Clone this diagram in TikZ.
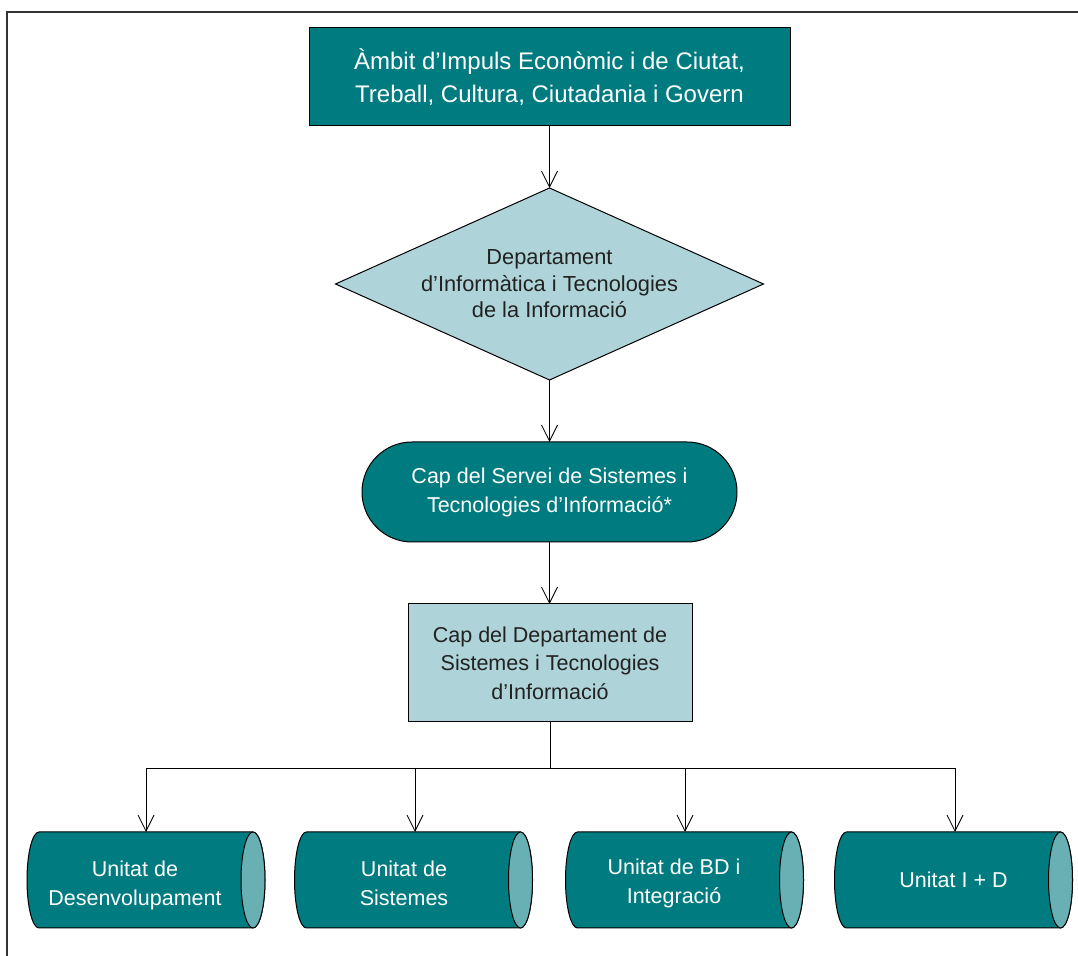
\documentclass[tikz,border=0pt]{standalone}
\usepackage{fontspec}
\setmainfont{Liberation Sans}
\usetikzlibrary{shapes.geometric,arrows.meta}
\definecolor{tealbox}{HTML}{007B7F}
\definecolor{lightbox}{HTML}{AED3D8}
\definecolor{capfill}{HTML}{69B0B4}
\definecolor{darktext}{HTML}{222222}
\newcommand\unitcyl[5]{%
  \node[unitbody] (#1) at (#2,75) {};
  \draw[outline, fill=tealbox] ([xshift=12pt]#1.north west) -- ([xshift=-12pt]#1.north east)
    arc[start angle=90, end angle=-90, x radius=12pt, y radius=48pt]
    -- ([xshift=12pt]#1.south west)
    arc[start angle=270, end angle=90, x radius=12pt, y radius=48pt] -- cycle;
  \draw[outline, fill=capfill] ([xshift=-12pt]#1.east) ellipse[x radius=12pt, y radius=48pt];
  \node[unittext] (#1-t) at ([xshift=#3pt, yshift=#4pt]#1.center) {#5};
}
\begin{document}
\begin{tikzpicture}[x=1pt,y=1pt,
  outline/.style={draw=black, line width=1pt},
  darkbox/.style={outline, fill=tealbox, text=white, align=center, inner sep=0pt, outer sep=0pt,
    font=\fontsize{21.5}{29}\selectfont},
  lightnode/.style={outline, fill=lightbox, text=darktext, align=center, inner sep=0pt, outer sep=0pt,
    font=\fontsize{21.5}{28.5}\selectfont},
  unitbody/.style={rectangle, draw=none, minimum width=238pt, minimum height=96pt, inner sep=0pt, outer sep=0pt},
  unittext/.style={text=white, align=center, inner sep=0pt, font=\fontsize{21.5}{29}\selectfont},
  link/.style={draw=black, line width=0.8pt, -{Straight Barb[length=16pt,width=16pt,line width=0.8pt]}},
  wire/.style={draw=black, line width=0.8pt},
  frameline/.style={draw=black!80, line width=1.2pt}]
\useasboundingbox (0,0) rectangle (1078,955);
% frame
\draw[frameline] (7,-5) -- (7,943) -- (1090,943);
% main chain
\node[darkbox, minimum width=481pt, minimum height=98pt, font=\fontsize{24}{33}\selectfont]
  (ambit) at (549.5,878) {Àmbit d’Impuls Econòmic i de Ciutat,\\Treball, Cultura, Ciutadania i Govern};
\node[lightnode, diamond, minimum width=428pt, minimum height=192pt, aspect=2.23, font=\fontsize{21.8}{26.5}\selectfont]
  (dept) at (549.5,671) {Departament\\d’Informàtica i Tecnologies\\de la Informació};
\node[darkbox, rectangle, rounded corners=50pt, minimum width=375pt, minimum height=100pt]
  (cap) at (549.5,463) {Cap del Servei de Sistemes i\\Tecnologies d’Informació*};
\node[lightnode, rectangle, minimum width=284pt, minimum height=118pt]
  (capdept) at (550,292) {Cap del Departament de\\Sistemes i Tecnologies\\d’Informació};
\draw[link] (ambit.south) -- (dept.north);
\draw[link] (dept.south) -- (cap.north);
\draw[link] (cap.south) -- (cap.south |- capdept.north);
% units
\unitcyl{u1}{146}{-11}{-5}{Unitat de\\Desenvolupament}
\unitcyl{u2}{413.5}{-9.5}{-3}{Unitat de\\Sistemes}
\unitcyl{u3}{684.5}{-10.5}{-3}{Unitat de BD i\\Integració}
\unitcyl{u4}{953.5}{0}{0}{Unitat I + D}
% branching
\coordinate (b1) at (146,187);
\coordinate (b2) at (415,187);
\coordinate (b3) at (685,187);
\coordinate (b4) at (955,187);
\draw[wire] (capdept.south) -- (capdept.south |- b1);
\draw[wire] (b1) -- (b4);
\draw[link] (b1) -- (b1 |- u1.north);
\draw[link] (b2) -- (b2 |- u2.north);
\draw[link] (b3) -- (b3 |- u3.north);
\draw[link] (b4) -- (b4 |- u4.north);
\end{tikzpicture}
\end{document}
